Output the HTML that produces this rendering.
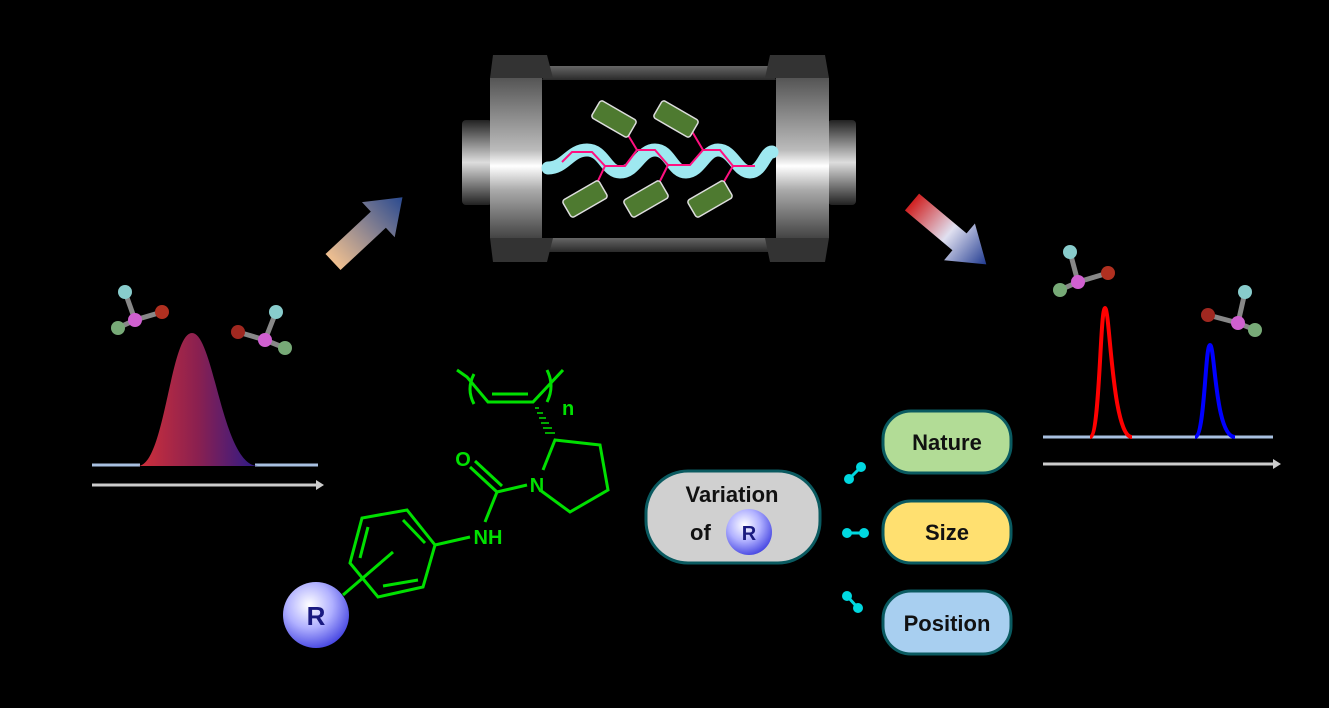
<!DOCTYPE html>
<html><head><meta charset="utf-8"><style>
html,body{margin:0;padding:0;background:#000;}
svg{display:block;}
text{font-family:"Liberation Sans",sans-serif;font-weight:bold;}
</style></head><body>
<svg width="1329" height="708" viewBox="0 0 1329 708" xmlns="http://www.w3.org/2000/svg">
<defs>
<linearGradient id="metal" x1="0" y1="0" x2="0" y2="1">
<stop offset="0" stop-color="#555"/><stop offset="0.45" stop-color="#bbb"/><stop offset="0.55" stop-color="#fff"/><stop offset="0.7" stop-color="#aaa"/><stop offset="1" stop-color="#444"/></linearGradient>
<linearGradient id="knob" x1="0" y1="0" x2="0" y2="1">
<stop offset="0" stop-color="#222"/><stop offset="0.5" stop-color="#ddd"/><stop offset="1" stop-color="#222"/></linearGradient>
<linearGradient id="band" x1="0" y1="0" x2="0" y2="1"><stop offset="0" stop-color="#666"/><stop offset="1" stop-color="#2a2a2a"/></linearGradient>
<linearGradient id="peak" x1="0" y1="0" x2="1" y2="0"><stop offset="0" stop-color="#d0303a"/><stop offset="0.5" stop-color="#8a2050"/><stop offset="1" stop-color="#2a1a8a"/></linearGradient>
<linearGradient id="ar1" x1="0" y1="0" x2="1" y2="0"><stop offset="0" stop-color="#f0c090"/><stop offset="1" stop-color="#2a4a90"/></linearGradient>
<linearGradient id="ar2" x1="0" y1="0" x2="1" y2="0"><stop offset="0" stop-color="#d02020"/><stop offset="0.5" stop-color="#e0e0f0"/><stop offset="1" stop-color="#203a90"/></linearGradient>
<radialGradient id="rball" cx="0.4" cy="0.35" r="0.7"><stop offset="0" stop-color="#fff"/><stop offset="0.5" stop-color="#b0b0ff"/><stop offset="1" stop-color="#4040e0"/></radialGradient>
</defs>

<rect x="462" y="120" width="30" height="85" rx="4" fill="url(#knob)"/>
<rect x="828" y="120" width="28" height="85" rx="4" fill="url(#knob)"/>
<polygon points="548,66 770,66 776,80 542,80" fill="url(#band)"/>
<polygon points="542,238 776,238 770,252 548,252" fill="url(#band)"/>
<rect x="542" y="80" width="234" height="158" fill="#000"/>
<polygon points="493,55 547,55 553,78 490,78" fill="#333"/>
<polygon points="490,238 553,238 547,262 493,262" fill="#333"/>
<rect x="490" y="78" width="52" height="160" fill="url(#metal)"/>
<polygon points="770,55 825,55 829,78 765,78" fill="#333"/>
<polygon points="765,238 829,238 825,262 770,262" fill="#333"/>
<rect x="776" y="78" width="53" height="160" fill="url(#metal)"/>
<path d="M548,168 C565,168 570,150 587,150 C604,150 606,172 620,172 C636,172 640,150 655,150 C670,150 672,172 686,172 C700,172 705,150 718,150 C733,150 737,172 750,172 C762,172 765,152 772,152" stroke="#9ee8f0" stroke-width="13" fill="none" stroke-linecap="round"/>
<path d="M562,162 L572,152 L592,152 L605,166 L625,166 L637,150 L655,150 L668,165 L690,165 L703,150 L720,150 L733,166 L755,166" stroke="#ff1080" stroke-width="2" fill="none"/>
<g stroke="#ff1080" stroke-width="2"><line x1="605" y1="166" x2="596" y2="185"/><line x1="668" y1="165" x2="658" y2="185"/><line x1="733" y1="166" x2="722" y2="185"/><line x1="637" y1="150" x2="628" y2="135"/><line x1="703" y1="150" x2="690" y2="128"/></g>
<g fill="#4e7a30" stroke="#ddd" stroke-width="1.5">
<rect x="593" y="109" width="42" height="20" rx="3" transform="rotate(30 614 119)"/>
<rect x="655" y="109" width="42" height="20" rx="3" transform="rotate(30 676 119)"/>
<rect x="564" y="189" width="42" height="20" rx="3" transform="rotate(-30 585 199)"/>
<rect x="625" y="189" width="42" height="20" rx="3" transform="rotate(-30 646 199)"/>
<rect x="689" y="189" width="42" height="20" rx="3" transform="rotate(-30 710 199)"/>
</g>

<polygon points="0,-11 62,-11 62,-24 95,0 62,24 62,11 0,11" fill="url(#ar1)" transform="translate(333,262) rotate(-43)"/>
<polygon points="0,-11 62,-11 62,-24 97,0 62,24 62,11 0,11" fill="url(#ar2)" transform="translate(912,202) rotate(40)"/>

<line x1="92" y1="465" x2="140" y2="465" stroke="#a8c0e0" stroke-width="3"/>
<line x1="255" y1="465" x2="318" y2="465" stroke="#a8c0e0" stroke-width="3"/>
<path d="M138,466 C165,466 170,333 192,333 C214,333 222,466 258,466 Z" fill="url(#peak)"/>
<line x1="92" y1="485" x2="316" y2="485" stroke="#ccc" stroke-width="3"/>
<polygon points="316,480 324,485 316,490" fill="#ccc"/>
<g stroke="#888" stroke-width="5"><line x1="125" y1="292" x2="135" y2="320"/><line x1="135" y1="320" x2="162" y2="312"/><line x1="135" y1="320" x2="118" y2="328"/></g>
<circle cx="125" cy="292" r="7" fill="#8cc"/><circle cx="162" cy="312" r="7" fill="#b03020"/><circle cx="118" cy="328" r="7" fill="#7a7"/><circle cx="135" cy="320" r="7" fill="#d060d0"/>
<g stroke="#888" stroke-width="5"><line x1="238" y1="332" x2="265" y2="340"/><line x1="265" y1="340" x2="276" y2="312"/><line x1="265" y1="340" x2="285" y2="348"/></g>
<circle cx="238" cy="332" r="7" fill="#a02820"/><circle cx="276" cy="312" r="7" fill="#8cc"/><circle cx="285" cy="348" r="7" fill="#7a7"/><circle cx="265" cy="340" r="7" fill="#d060d0"/>

<line x1="1043" y1="437" x2="1273" y2="437" stroke="#a8c0e0" stroke-width="3"/>
<path d="M1090,437 C1100,437 1100,308 1105,308 C1110,308 1112,437 1132,437" stroke="#f00" stroke-width="4" fill="none"/>
<path d="M1195,437 C1205,437 1205,345 1210,345 C1215,345 1215,437 1235,437" stroke="#00f" stroke-width="4" fill="none"/>
<line x1="1043" y1="464" x2="1274" y2="464" stroke="#ccc" stroke-width="3"/>
<polygon points="1273,459 1281,464 1273,469" fill="#ccc"/>
<g stroke="#888" stroke-width="5"><line x1="1070" y1="252" x2="1078" y2="282"/><line x1="1078" y1="282" x2="1108" y2="273"/><line x1="1078" y1="282" x2="1060" y2="290"/></g>
<circle cx="1070" cy="252" r="7" fill="#8cc"/><circle cx="1108" cy="273" r="7" fill="#b03020"/><circle cx="1060" cy="290" r="7" fill="#7a7"/><circle cx="1078" cy="282" r="7" fill="#d060d0"/>
<g stroke="#888" stroke-width="5"><line x1="1208" y1="315" x2="1238" y2="323"/><line x1="1238" y1="323" x2="1245" y2="292"/><line x1="1238" y1="323" x2="1255" y2="330"/></g>
<circle cx="1208" cy="315" r="7" fill="#a02820"/><circle cx="1245" cy="292" r="7" fill="#8cc"/><circle cx="1255" cy="330" r="7" fill="#7a7"/><circle cx="1238" cy="323" r="7" fill="#d060d0"/>

<g stroke="#00e000" stroke-width="3" fill="none">
<path d="M457,370 L467,377 L488,402 L533,402 L563,370"/>
<line x1="492" y1="394" x2="528" y2="394"/>
<path d="M474,374 Q466,389 474,404"/><path d="M547,370 Q555,386 547,402"/>
<path d="M543,470 L555,440 L600,445 L608,490 L570,512 L540,490"/>
<line x1="527" y1="485" x2="497" y2="492"/>
<line x1="497" y1="492" x2="470" y2="467"/><line x1="502" y1="486" x2="475" y2="461"/>
<line x1="497" y1="492" x2="485" y2="522"/>
<line x1="470" y1="537" x2="435" y2="545"/>
<polygon points="435,545 407,510 362,518 350,563 378,597 423,587"/>
<line x1="403" y1="520" x2="425" y2="543"/><line x1="368" y1="527" x2="360" y2="558"/><line x1="383" y1="586" x2="418" y2="580"/>
<line x1="393" y1="552" x2="343" y2="595"/>
</g>
<g stroke="#00e000" stroke-width="1.5">
<line x1="535" y1="408" x2="539" y2="408"/><line x1="537" y1="413" x2="543" y2="413"/><line x1="539" y1="418" x2="546" y2="418"/><line x1="541" y1="423" x2="549" y2="423"/><line x1="543" y1="428" x2="552" y2="428"/><line x1="545" y1="433" x2="555" y2="433"/></g>
<text x="562" y="415" font-size="20" fill="#00e000">n</text>
<text x="463" y="466" font-size="20" fill="#00e000" text-anchor="middle">O</text>
<text x="537" y="492" font-size="20" fill="#00e000" text-anchor="middle">N</text>
<text x="488" y="544" font-size="20" fill="#00e000" text-anchor="middle">NH</text>
<circle cx="316" cy="615" r="33" fill="url(#rball)"/>
<text x="316" y="625" font-size="26" fill="#1a1a80" text-anchor="middle">R</text>

<rect x="646" y="471" width="174" height="92" rx="42" fill="#d0d0d0" stroke="#0a5a60" stroke-width="3"/>
<text x="732" y="502" font-size="22" fill="#111" text-anchor="middle">Variation</text>
<text x="690" y="540" font-size="22" fill="#111">of</text>
<circle cx="749" cy="532" r="23" fill="url(#rball)"/>
<text x="749" y="540" font-size="20" fill="#1a1a80" text-anchor="middle">R</text>
<rect x="883" y="411" width="128" height="62" rx="28" fill="#b2dc96" stroke="#0a5a60" stroke-width="3"/>
<text x="947" y="450" font-size="22" fill="#111" text-anchor="middle">Nature</text>
<rect x="883" y="501" width="128" height="62" rx="28" fill="#ffe070" stroke="#0a5a60" stroke-width="3"/>
<text x="947" y="540" font-size="22" fill="#111" text-anchor="middle">Size</text>
<rect x="883" y="591" width="128" height="63" rx="28" fill="#a8cff0" stroke="#0a5a60" stroke-width="3"/>
<text x="947" y="631" font-size="22" fill="#111" text-anchor="middle">Position</text>
<g stroke="#00d8e0" stroke-width="3" fill="#00d8e0">
<line x1="849" y1="479" x2="861" y2="467"/><circle cx="849" cy="479" r="3.5"/><circle cx="861" cy="467" r="3.5"/>
<line x1="847" y1="533" x2="864" y2="533"/><circle cx="847" cy="533" r="3.5"/><circle cx="864" cy="533" r="3.5"/>
<line x1="847" y1="596" x2="858" y2="608"/><circle cx="847" cy="596" r="3.5"/><circle cx="858" cy="608" r="3.5"/>
</g>
</svg>
</body></html>
